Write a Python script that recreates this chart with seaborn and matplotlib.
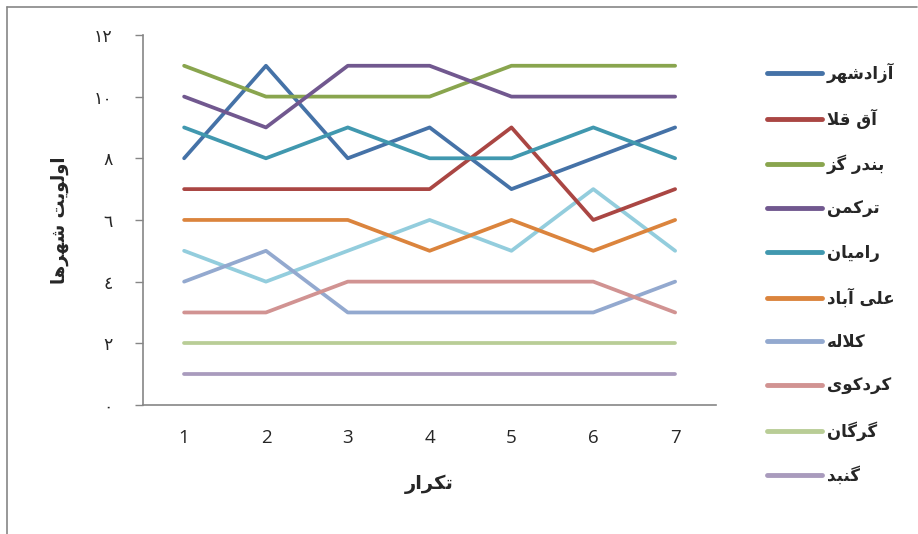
import matplotlib
matplotlib.use("Agg")
import matplotlib.pyplot as plt
import seaborn as sns
from matplotlib.lines import Line2D

# --- data ---
ITERATIONS = [1, 2, 3, 4, 5, 6, 7]
CITIES = ["آزادشهر", "آق قلا", "بندر گز", "ترکمن", "رامیان",
          "علی آباد", "کلاله", "کردکوی", "گرگان", "گنبد"]
AZADSHAHR = [8, 11, 8, 9, 7, 8, 9]
AQQALA = [7, 7, 7, 7, 9, 6, 7]
BANDAR_GAZ = [11, 10, 10, 10, 11, 11, 11]
TORKAMAN = [10, 9, 11, 11, 10, 10, 10]
RAMIAN = [9, 8, 9, 8, 8, 9, 8]
ALIABAD = [6, 6, 6, 5, 6, 5, 6]
KALALEH = [4, 5, 3, 3, 3, 3, 4]
KORDKUY = [3, 3, 4, 4, 4, 4, 3]
GORGAN = [2, 2, 2, 2, 2, 2, 2]
GONBAD = [1, 1, 1, 1, 1, 1, 1]
UNLISTED = [5, 4, 5, 6, 5, 7, 5]  # 11th series, not shown in the legend
Y_TICKS = [0, 2, 4, 6, 8, 10, 12]
Y_TICK_LABELS = ["٠", "٢", "٤", "٦", "٨", "١٠", "١٢"]
X_LABEL = "تکرار"
Y_LABEL = "اولویت شهرها"

COLORS = ["#4572A7", "#AA4643", "#89A54E", "#71588F", "#4198AF",
          "#DB843D", "#93A9CF", "#D19392", "#B9CD96", "#A99BBD"]
UNLISTED_COLOR = "#93CDDD"

# --- tiny arabic shaper (matplotlib has no complex text layout) ---
# isolated, final, initial, medial
FORMS = {
    "ا": ("\uFE8D", "\uFE8E", None, None),
    "آ": ("\uFE81", "\uFE82", None, None),
    "ب": ("\uFE8F", "\uFE90", "\uFE91", "\uFE92"),
    "ت": ("\uFE95", "\uFE96", "\uFE97", "\uFE98"),
    "د": ("\uFEA9", "\uFEAA", None, None),
    "ر": ("\uFEAD", "\uFEAE", None, None),
    "ز": ("\uFEAF", "\uFEB0", None, None),
    "ش": ("\uFEB5", "\uFEB6", "\uFEB7", "\uFEB8"),
    "ع": ("\uFEC9", "\uFECA", "\uFECB", "\uFECC"),
    "ق": ("\uFED5", "\uFED6", "\uFED7", "\uFED8"),
    "ل": ("\uFEDD", "\uFEDE", "\uFEDF", "\uFEE0"),
    "م": ("\uFEE1", "\uFEE2", "\uFEE3", "\uFEE4"),
    "ن": ("\uFEE5", "\uFEE6", "\uFEE7", "\uFEE8"),
    "ه": ("\uFEE9", "\uFEEA", "\uFEEB", "\uFEEC"),
    "و": ("\uFEED", "\uFEEE", None, None),
    "ی": ("\uFBFC", "\uFBFD", "\uFBFE", "\uFBFF"),
    "ک": ("\uFB8E", "\uFB8F", "\uFB90", "\uFB91"),
    "گ": ("\uFB92", "\uFB93", "\uFB94", "\uFB95"),
}


def shape(text):
    out = []
    chars = list(text)
    i = 0
    while i < len(chars):
        c = chars[i]
        if c not in FORMS:
            out.append(c)
            i += 1
            continue
        prev = chars[i - 1] if i > 0 else None
        joins_prev = prev in FORMS and FORMS[prev][2] is not None
        # lam-alef ligature
        if c == "ل" and i + 1 < len(chars) and chars[i + 1] == "ا":
            out.append("\uFEFC" if joins_prev else "\uFEFB")
            i += 2
            continue
        nxt = chars[i + 1] if i + 1 < len(chars) else None
        joins_next = FORMS[c][2] is not None and nxt in FORMS
        iso, fin, ini, med = FORMS[c]
        if joins_prev and joins_next:
            out.append(med)
        elif joins_prev:
            out.append(fin)
        elif joins_next:
            out.append(ini)
        else:
            out.append(iso)
        i += 1
    return "".join(out)[::-1]


# --- plot ---
sns.set_theme(style="white")
plt.rcParams["font.family"] = ["DejaVu Sans"]

fig = plt.figure(figsize=(9.18, 5.34), dpi=100)
ax = fig.add_axes([0.156, 0.2416, 0.624, 0.693])

series = [AZADSHAHR, AQQALA, BANDAR_GAZ, TORKAMAN, RAMIAN,
          ALIABAD, KALALEH, KORDKUY, GORGAN, GONBAD]

sns.lineplot(x=ITERATIONS, y=UNLISTED, color=UNLISTED_COLOR, linewidth=2.7, ax=ax)
for name, vals, col in zip(CITIES, series, COLORS):
    sns.lineplot(x=ITERATIONS, y=vals, color=col, linewidth=2.7,
                 label=shape(name), ax=ax)

ax.set_xlim(0.5, 7.5)
ax.set_ylim(0, 12)
ax.set_xticks(ITERATIONS)
ax.set_xticklabels([str(v) for v in ITERATIONS], fontsize=13.5, family="Open Sans")
ax.set_yticks(Y_TICKS)
ax.set_yticklabels(Y_TICK_LABELS, fontsize=12.5)
ax.tick_params(axis="y", direction="out", length=6, width=1, color="#868686",
               pad=16, left=True)
ax.tick_params(axis="x", length=0, pad=17)

for side in ["top", "right"]:
    ax.spines[side].set_visible(False)
for side in ["left", "bottom"]:
    ax.spines[side].set_color("#868686")
    ax.spines[side].set_linewidth(1.2)

ax.set_xlabel(shape(X_LABEL), fontsize=14, fontweight="bold", labelpad=20)
ax.set_ylabel(shape(Y_LABEL), fontsize=13, fontweight="bold", labelpad=18)

leg = ax.legend(loc="upper left", bbox_to_anchor=(0.828, 0.895),
                bbox_transform=fig.transFigure, frameon=False,
                fontsize=12, handlelength=3.3, handletextpad=0.3,
                labelspacing=1.55, borderaxespad=0)
for t in leg.get_texts():
    t.set_fontweight("bold")
for h in leg.get_lines():
    h.set_linewidth(3.5)
    h.set_solid_capstyle("round")

# chart-area border: only the top and left edges are visible in the crop
fig.add_artist(Line2D([0.008, 0.008], [0.0, 0.987], transform=fig.transFigure,
                      color="#868686", linewidth=1.2))
fig.add_artist(Line2D([0.008, 0.999], [0.987, 0.987], transform=fig.transFigure,
                      color="#868686", linewidth=1.2))

fig.savefig("out.png", dpi=100)
